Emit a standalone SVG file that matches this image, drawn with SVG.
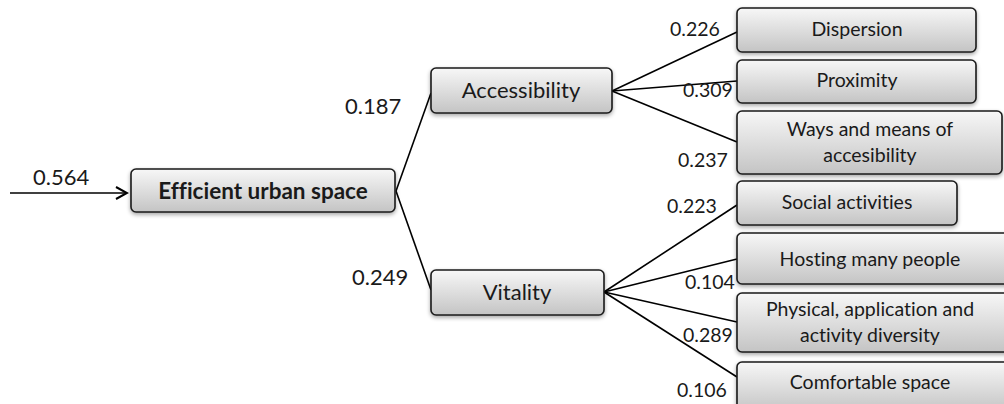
<svg xmlns="http://www.w3.org/2000/svg" width="1004" height="404" viewBox="0 0 1004 404">
<defs>
<linearGradient id="g" x1="0" y1="0" x2="0" y2="1">
<stop offset="0" stop-color="#f7f7f7"/>
<stop offset="1" stop-color="#c4c4c4"/>
</linearGradient>
<filter id="sh" x="-10%" y="-20%" width="120%" height="150%">
<feGaussianBlur in="SourceAlpha" stdDeviation="2"/>
<feOffset dx="0" dy="2" result="b"/>
<feComponentTransfer><feFuncA type="linear" slope="0.35"/></feComponentTransfer>
<feMerge><feMergeNode/><feMergeNode in="SourceGraphic"/></feMerge>
</filter>
<marker id="arr" markerWidth="14" markerHeight="14" refX="12" refY="7" orient="auto" markerUnits="userSpaceOnUse">
<path d="M1,1 L12,7 L1,13" fill="none" stroke="#000" stroke-width="2"/>
</marker>
</defs>
<style>
text{font-variant-ligatures:none}
.box{fill:url(#g);stroke:#1a1a1a;stroke-width:1.6;filter:url(#sh)}
.t{font-family:Lato,"Open Sans",sans-serif;font-size:19.5px;fill:#1a1a1a;text-anchor:middle}
.mid{font-size:22px}
.b{font-weight:bold;font-size:22.5px}
.w{font-family:Lato,"Open Sans",sans-serif;fill:#1a1a1a;font-size:19.5px}
.wl{font-size:22px}
.c{stroke:#000;stroke-width:1.6;fill:none}
</style>
<rect width="1004" height="404" fill="#fff"/>
<g id="connectors">
<line class="c" x1="10" y1="193" x2="127" y2="193" marker-end="url(#arr)"/>
<line class="c" x1="396" y1="191" x2="431" y2="93"/>
<line class="c" x1="396" y1="191" x2="431" y2="290"/>
<line class="c" x1="612" y1="91" x2="737" y2="32"/>
<line class="c" x1="612" y1="91" x2="737" y2="81"/>
<line class="c" x1="612" y1="91" x2="737" y2="142"/>
<line class="c" x1="604" y1="292" x2="737" y2="205"/>
<line class="c" x1="604" y1="292" x2="737" y2="259"/>
<line class="c" x1="604" y1="292" x2="737" y2="322"/>
<line class="c" x1="604" y1="292" x2="737" y2="377"/>
</g>
<g id="labels">
<text class="w wl" x="33" y="185">0.564</text>
<text class="w wl" x="345" y="114">0.187</text>
<text class="w wl" x="352" y="285">0.249</text>
<text class="w" x="670" y="36" fill="#3a2020">0.226</text>
<text class="w" x="683" y="97">0.309</text>
<text class="w" x="678" y="167">0.237</text>
<text class="w" x="667" y="213">0.223</text>
<text class="w" x="685" y="289">0.104</text>
<text class="w" x="683" y="342">0.289</text>
<text class="w" x="677" y="397">0.106</text>
</g>
<g id="efficient"><rect class="box" x="131" y="169" width="264" height="43" rx="5"/><text class="t b" x="263" y="199">Efficient urban space</text></g>
<g id="accessibility"><rect class="box" x="431" y="68" width="181" height="45" rx="5"/><text class="t mid" x="521" y="98">Accessibility</text></g>
<g id="vitality"><rect class="box" x="431" y="270" width="173" height="45" rx="5"/><text class="t mid" x="517" y="300">Vitality</text></g>
<g id="dispersion"><rect class="box" x="737" y="8" width="239" height="44" rx="5"/><text class="t" x="857" y="36">Dispersion</text></g>
<g id="proximity"><rect class="box" x="737" y="60" width="239" height="43" rx="5"/><text class="t" x="857" y="87">Proximity</text></g>
<g id="ways"><rect class="box" x="737" y="111" width="265" height="63" rx="5"/><text class="t" x="870" y="136">Ways and means of</text><text class="t" x="870" y="162">accesibility</text></g>
<g id="social"><rect class="box" x="737" y="181" width="220" height="44" rx="5"/><text class="t" x="847" y="209">Social activities</text></g>
<g id="hosting"><rect class="box" x="737" y="233" width="275" height="51" rx="5"/><text class="t" x="870" y="266">Hosting many people</text></g>
<g id="physical"><rect class="box" x="737" y="293" width="275" height="59" rx="5"/><text class="t" x="870" y="316">Physical, application and</text><text class="t" x="870" y="342">activity diversity</text></g>
<g id="comfortable"><rect class="box" x="737" y="362" width="275" height="50" rx="5"/><text class="t" x="870" y="389">Comfortable space</text></g>
</svg>
